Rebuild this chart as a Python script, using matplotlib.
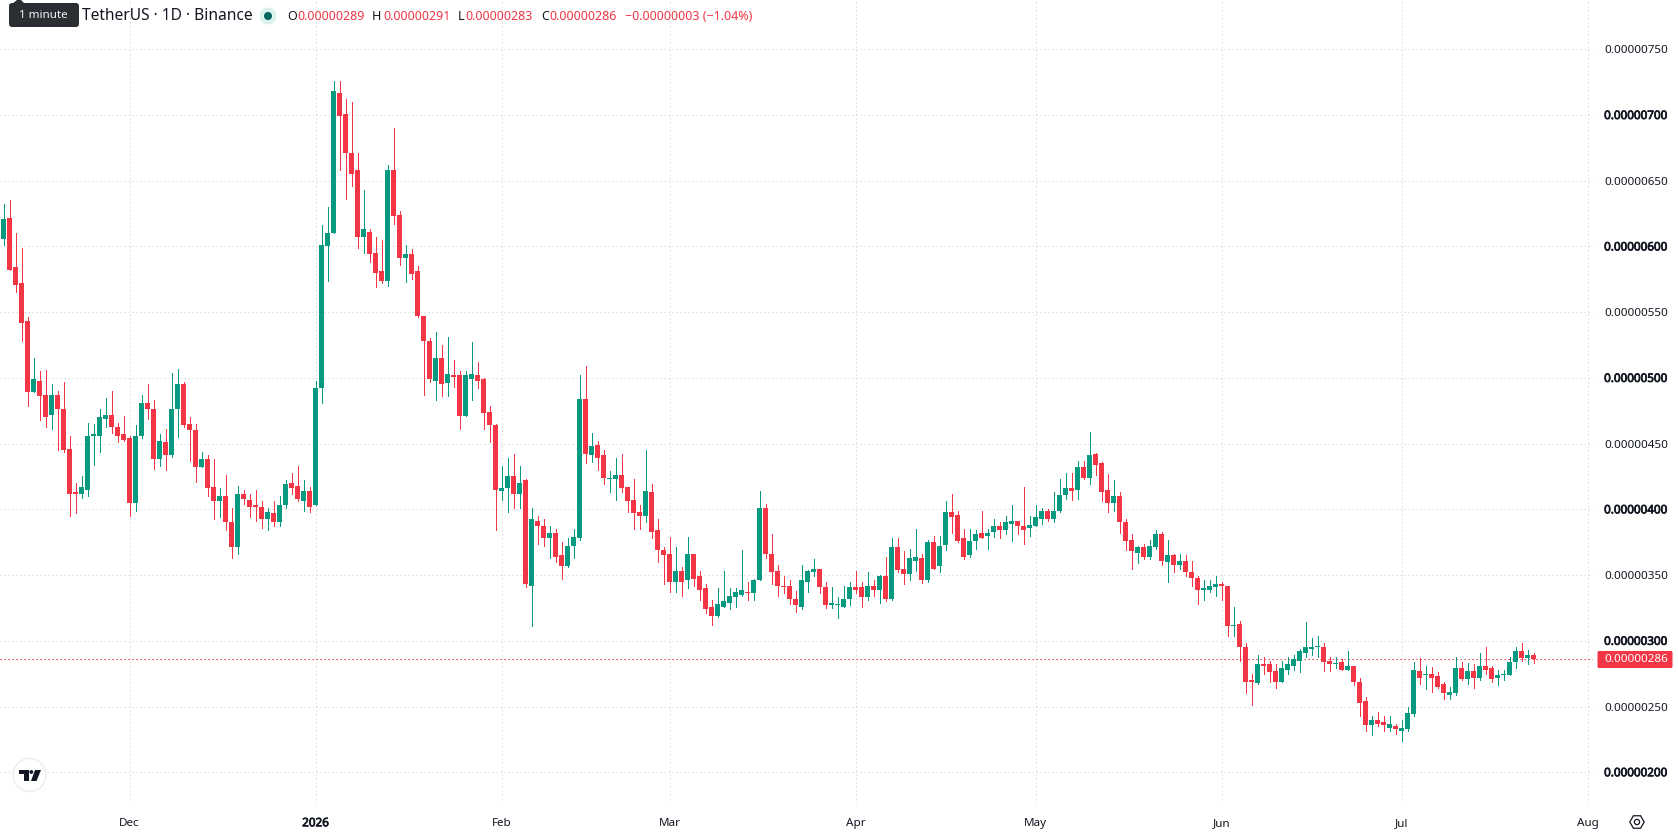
import matplotlib
matplotlib.use("Agg")
import matplotlib.pyplot as plt
import matplotlib.patheffects as pe
from matplotlib.patches import Circle, FancyBboxPatch, Polygon
import numpy as np
import pandas as pd

plt.rcParams["font.family"] = ["Noto Sans", "DejaVu Sans"]

# Daily OHLC in units of 0.00000001 USDT, first session 2025-11-10
first_day = "2025-11-10"
opens = [
    606,622,584,572,543,489,498,487,472,487,
    476,446,413,412,415,456,456,469,472,463,
    457,454,405,456,481,476,438,451,441,476,
    495,465,460,432,438,417,406,410,390,371,
    412,407,403,402,393,397,390,403,420,418,
    406,414,403,492,600,610,717,701,671,658,
    607,611,595,581,574,658,624,591,594,581,
    547,528,498,515,496,502,502,471,499,502,
    499,474,464,414,416,425,412,422,342,391,
    387,378,382,365,357,372,378,484,441,449,
    441,423,423,426,417,407,398,395,413,384,
    369,366,345,353,346,366,349,340,326,319,
    326,329,333,335,337,336,346,401,366,353,
    342,342,332,326,345,352,355,341,327,327,
    326,332,341,341,333,342,339,349,332,371,
    355,351,361,363,346,375,357,373,398,396,
    378,365,376,382,380,383,387,384,389,391,
    387,386,387,393,399,393,399,411,416,415,
    432,424,442,435,415,405,410,390,377,367,
    371,364,371,381,360,365,358,361,352,348,
    339,339,341,343,342,311,313,295,270,268,
    282,282,277,269,278,281,285,291,294,295,
    295,285,282,284,278,281,269,254,236,240,
    238,234,235,231,233,244,277,274,275,273,
    267,259,260,279,271,277,272,281,279,272,
    274,274,284,292,287,289,
]
highs = [
    632,635,610,599,546,515,505,506,495,490,
    497,456,420,425,466,465,476,485,490,466,
    471,456,464,487,495,483,457,461,504,507,
    497,470,465,444,441,438,416,426,401,418,
    415,412,415,406,401,406,410,422,428,433,
    422,417,498,616,630,726,726,712,710,671,
    643,613,607,605,662,690,627,601,598,585,
    547,530,535,525,531,514,505,505,527,512,
    500,479,465,433,439,442,433,423,401,395,
    393,387,385,375,378,385,502,509,458,452,
    445,429,439,442,417,423,403,445,419,393,
    371,379,371,356,379,366,353,343,331,340,
    353,340,340,369,345,347,414,404,381,358,
    349,346,338,358,354,362,355,345,341,333,
    342,345,353,345,352,346,350,364,378,378,
    368,370,385,366,377,380,380,406,412,399,
    385,385,384,399,385,393,390,395,403,391,
    417,395,403,401,400,413,423,428,428,437,
    437,459,443,436,427,422,413,393,381,372,
    374,377,384,383,377,366,366,365,361,349,
    346,346,349,345,342,326,315,298,275,289,
    288,285,282,285,288,289,294,314,302,304,
    298,288,288,286,292,281,272,257,243,246,
    243,243,237,240,250,284,287,281,280,276,
    269,265,288,284,283,282,291,295,281,278,
    278,288,295,298,293,291,
]
lows = [
    601,582,565,528,479,489,468,463,461,445,
    444,395,397,409,410,434,444,463,458,451,
    452,395,399,454,469,431,433,430,440,455,
    463,437,421,432,410,393,394,384,363,366,
    404,394,391,386,384,387,387,401,412,406,
    399,398,403,481,574,610,658,636,646,599,
    595,588,569,572,570,617,586,573,575,546,
    487,497,483,486,486,493,461,471,483,492,
    461,451,384,407,398,401,401,341,311,374,
    372,363,360,347,356,363,377,435,436,430,
    419,413,407,413,398,385,385,390,378,360,
    343,337,337,334,340,342,331,321,312,318,
    326,324,326,334,331,331,346,363,343,334,
    336,328,322,324,337,349,336,325,325,317,
    326,327,336,326,331,334,329,330,331,352,
    343,346,353,344,345,355,352,369,382,375,
    362,364,370,378,370,379,378,381,376,381,
    374,380,387,389,391,390,398,408,407,408,
    423,419,426,406,398,399,382,369,355,359,
    362,362,370,358,345,352,355,349,342,328,
    331,337,334,331,304,304,285,260,251,267,
    275,269,264,269,275,278,276,288,289,288,
    277,277,279,278,278,266,243,231,228,235,
    231,231,229,224,231,243,267,263,261,264,
    256,256,259,270,267,264,270,275,269,266,
    270,274,279,285,282,283,
]
closes = [
    621,582,571,542,489,499,486,470,487,476,
    445,412,412,417,456,457,470,472,463,456,
    453,405,456,481,476,438,452,441,476,495,
    464,460,432,438,416,406,410,390,371,412,
    408,402,402,393,398,390,403,419,416,408,
    414,402,492,601,610,718,699,671,655,607,
    613,594,580,574,658,623,591,594,579,547,
    528,499,515,495,503,501,471,502,503,498,
    473,464,415,416,425,412,420,343,393,387,
    378,382,364,357,372,379,484,442,448,439,
    424,424,426,416,406,397,395,414,383,369,
    365,345,353,345,366,347,339,324,319,328,
    330,334,337,339,336,346,401,366,352,342,
    341,332,327,346,353,355,341,327,329,328,
    332,341,339,333,342,339,349,332,371,354,
    351,363,364,346,375,355,372,398,394,376,
    364,376,381,378,382,387,384,390,391,387,
    384,388,394,399,393,399,411,416,414,432,
    424,441,434,413,405,410,390,376,368,371,
    364,372,381,361,365,358,361,352,348,339,
    340,342,343,342,311,312,295,269,269,282,
    281,276,269,279,282,286,292,295,295,296,
    284,282,283,278,281,269,253,236,240,237,
    236,237,233,234,245,278,272,275,272,265,
    260,261,279,271,277,272,281,278,271,274,
    275,284,292,287,289,286,
]

price_ticks = [200, 250, 300, 350, 400, 450, 500, 550, 600, 650, 700, 750]
bold_prices = {200, 300, 400, 500, 600, 700}
month_dates = ["2025-12-01", "2026-01-01", "2026-02-01", "2026-03-01", "2026-04-01",
               "2026-05-01", "2026-06-01", "2026-07-01", "2026-08-01"]
month_labels = ["Dec", "2026", "Feb", "Mar", "Apr", "May", "Jun", "Jul", "Aug"]
symbol_title = "TetherUS · 1D · Binance"
change_text = "−0.00000003 (−1.04%)"

UP = "#089981"
DOWN = "#F23645"
INK = "#131722"
GRID = "#d9d9d9"

WIDTH, HEIGHT = 1678, 835
PLOT_RIGHT, PLOT_BOTTOM = 1593, 803
BAR_STEP = 6.0
scale = 1e-8
# The installed Noto Sans has one weight, so heavy labels get a thin outline
heavy = [pe.withStroke(linewidth=0.55, foreground=INK)]

o, h, l, c = (np.array(a, dtype=float) * scale for a in (opens, highs, lows, closes))
x = np.arange(len(o))
colors = np.where(c >= o, UP, DOWN)

fig = plt.figure(figsize=(WIDTH / 100, HEIGHT / 100), dpi=100, facecolor="white")
ax = fig.add_axes([0, 1 - PLOT_BOTTOM / HEIGHT, PLOT_RIGHT / WIDTH, PLOT_BOTTOM / HEIGHT])
ax.set_xlim(-3.5 / BAR_STEP, (PLOT_RIGHT - 3.5) / BAR_STEP)
ax.set_ylim(176.6 * scale, 787.5 * scale)
for spine in ax.spines.values():
    spine.set_visible(False)

# Grid
ax.grid(True, color=GRID, linewidth=0.72, linestyle=(0, (1.4, 2.6)), zorder=0)
ax.set_axisbelow(True)

# Candles: wick then body
ax.vlines(x, l, h, colors=colors, linewidth=0.72, zorder=3, antialiased=False)
ax.bar(x, np.abs(c - o), bottom=np.minimum(o, c), width=5 / BAR_STEP, color=colors,
       linewidth=0, zorder=4, antialiased=False)

# Last price line
ax.axhline(c[-1], color=DOWN, linewidth=0.72, linestyle=(0, (1.4, 2.6)), zorder=2)

# Price scale on the right; the right-hand labels are each tick's label2
ax.yaxis.tick_right()
ax.set_yticks(np.array(price_ticks) * scale)
ax.set_yticklabels([f"{p * scale:.8f}" for p in price_ticks])
ax.tick_params(axis="y", length=0, pad=8, labelsize=8.4, labelcolor=INK)
for tick, p in zip(ax.yaxis.get_major_ticks(), price_ticks):
    if p in bold_prices:
        tick.label2.set_path_effects(heavy)

# Month scale along the bottom
start = pd.Timestamp(first_day)
month_pos = [(pd.Timestamp(d) - start).days for d in month_dates]
ax.set_xticks(month_pos)
ax.set_xticklabels(month_labels)
ax.tick_params(axis="x", length=0, pad=11, labelsize=8.4, labelcolor=INK)
for lab, name in zip(ax.get_xticklabels(), month_labels):
    if name == "2026":
        lab.set_path_effects(heavy)

# Overlay in pixel coordinates for the header and small interface pieces
ui = fig.add_axes([0, 0, 1, 1], facecolor="none")
ui.set_xlim(0, WIDTH)
ui.set_ylim(HEIGHT, 0)
ui.axis("off")

# Last price tag
ui.add_patch(FancyBboxPatch((1598, 651.5), 74, 16, boxstyle="round,pad=0.5,rounding_size=1.5",
                            facecolor=DOWN, edgecolor="none", zorder=5))
ui.text(1636, 659.5, f"{c[-1]:.8f}", color="white", fontsize=8.4, ha="center", va="center", zorder=6)

# Header line
ui.text(82, 16, symbol_title, color=INK, fontsize=11.2, ha="left", va="center")
ui.add_patch(Circle((268, 16), 8.5, facecolor="#dcf1ed", edgecolor="none"))
ui.add_patch(Circle((268, 16), 4, facecolor="#00695c", edgecolor="none"))
ohlc_items = [("O", opens[-1], 287, 297), ("H", highs[-1], 372, 383),
              ("L", lows[-1], 458, 465), ("C", closes[-1], 541, 549)]
for key, value, key_x, value_x in ohlc_items:
    ui.text(key_x, 16, key, color=INK, fontsize=9, ha="left", va="center")
    ui.text(value_x, 16, f"{value * scale:.8f}", color=DOWN, fontsize=9, ha="left", va="center")
ui.text(625, 16, change_text, color=DOWN, fontsize=9, ha="left", va="center")

# Tooltip bubble
ui.add_patch(FancyBboxPatch((11, 5), 66, 20, boxstyle="round,pad=2,rounding_size=3",
                            facecolor="#2a2e33", edgecolor="none", zorder=7))
ui.add_patch(Polygon([(12, 4), (17, 0), (21, 0), (25, 4)], facecolor="#2a2e33",
                     edgecolor="none", zorder=7))
ui.text(43, 15.5, "1 minute", color="#f0f3fa", fontsize=8.4, ha="center", va="center", zorder=8)

# Logo badge
ui.add_patch(Circle((29.5, 775), 16.5, facecolor="white", edgecolor="#ececec", linewidth=1, zorder=7))
ui.add_patch(Polygon([(19, 770), (28.5, 770), (28.5, 781), (23.5, 781), (23.5, 774), (19, 774)],
                     facecolor="#131722", edgecolor="none", zorder=8))
ui.add_patch(Circle((31.3, 772), 1.9, facecolor="#131722", edgecolor="none", zorder=8))
ui.add_patch(Polygon([(35, 770), (41, 770), (36.5, 781), (31, 781)], facecolor="#131722",
                     edgecolor="none", zorder=8))

# Settings icon
hex_angles = np.deg2rad(np.arange(0, 360, 60))
ui.add_patch(Polygon(np.c_[1637 + 7.2 * np.cos(hex_angles), 822 + 7.2 * np.sin(hex_angles)],
                     closed=True, facecolor="white", edgecolor=INK, linewidth=0.9, zorder=8))
ui.add_patch(Circle((1637, 822), 2.6, facecolor="white", edgecolor=INK, linewidth=0.9, zorder=9))

fig.savefig("out.png", dpi=100, facecolor="white")
